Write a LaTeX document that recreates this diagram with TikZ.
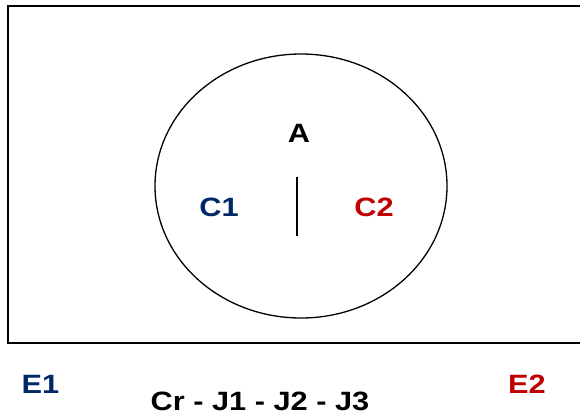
\documentclass[tikz,border=0pt]{standalone}
\usepackage{fontspec}
\setmainfont{Liberation Sans}[FakeStretch=1.16]
\usepackage{xcolor}
\usepackage{tikz}
\usetikzlibrary{positioning, calc}
\definecolor{navyblue}{RGB}{0,40,104}
\definecolor{darkred}{RGB}{192,0,0}

\begin{document}
\begin{tikzpicture}[
    x=1pt, y=-1pt,
    label/.style={inner sep=0pt, font=\fontsize{26.5}{31}\selectfont\bfseries},
    frame/.style={draw=black, line width=1.4pt},
    divider/.style={draw=black, line width=1.3pt}
]
    \useasboundingbox (0,0) rectangle (580,413);
    \draw[frame] (8,6) rectangle (584,343);
    \draw[divider] (301,186) ellipse [x radius=146pt, y radius=132pt];

    \node[label] (A) at (299,133) {A};
    \node[label, text=navyblue] (C1) at (219,207) {C1};
    \node[label, text=darkred] (C2) at (374,207) {C2};
    \coordinate (Dtop) at (297,177);
    \coordinate (Dbot) at (297,236);
    \draw[divider] (Dtop) -- (Dbot);

    \node[label, text=navyblue] (E1) at (40.5,384) {E1};
    \node[label, text=darkred] (E2) at (527,384) {E2};
    \node[label] (Cr) at (260,401) {Cr - J1 - J2 - J3};
\end{tikzpicture}
\end{document}
